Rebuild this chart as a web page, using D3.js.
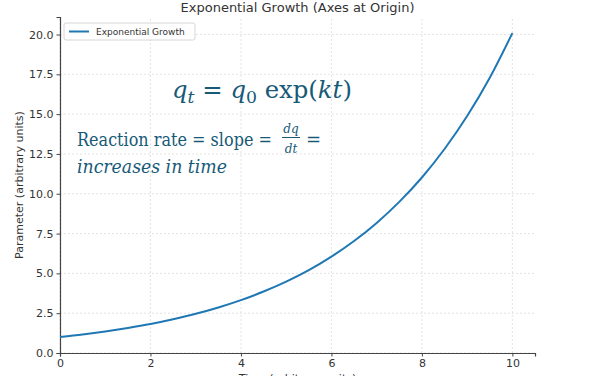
<!DOCTYPE html>
<html>
<head>
<meta charset="utf-8">
<script src="https://cdn.jsdelivr.net/npm/d3@7"></script>
<style>
  body { margin: 0; background: #fff; }
  svg { display: block; }
  .tick text { font-family: "DejaVu Sans", sans-serif; font-size: 11px; fill: #333; }
  .math { font-family: "DejaVu Serif", serif; fill: #175a78; }
</style>
</head>
<body>
<div id="chart"></div>
<script>
// readings (time, parameter)
const times  = [0, 0.5, 1, 1.5, 2, 2.5, 3, 3.5, 4, 4.5, 5, 5.5, 6, 6.5, 7, 7.5, 8, 8.5, 9, 9.5, 10];
const values = [1.00, 1.16, 1.35, 1.57, 1.82, 2.12, 2.46, 2.86, 3.32, 3.86, 4.48,
                5.20, 6.05, 7.03, 8.17, 9.49, 11.02, 12.81, 14.88, 17.29, 20.09];
const xTicks = [0, 2, 4, 6, 8, 10];
const yTicks = [0, 2.5, 5, 7.5, 10, 12.5, 15, 17.5, 20];
const seriesName = 'Exponential Growth';

const width = 604, height = 376;
const margin = { left: 60, right: 69, top: 17, bottom: 23 };

const svg = d3.select('#chart').append('svg')
  .attr('width', width).attr('height', height);

const x = d3.scaleLinear().domain([0, 10.5]).range([margin.left, width - margin.right]);
const y = d3.scaleLinear().domain([0, 21.1]).range([height - margin.bottom, margin.top]);

// grid
const grid = svg.append('g').attr('stroke', '#dcdcdc').attr('stroke-width', 0.8).attr('stroke-dasharray', '2,2');
grid.selectAll('.gx').data(xTicks).join('line')
  .attr('x1', d => x(d)).attr('x2', d => x(d))
  .attr('y1', y.range()[0]).attr('y2', y.range()[1]);
grid.selectAll('.gy').data(yTicks).join('line')
  .attr('x1', x.range()[0]).attr('x2', x.range()[1])
  .attr('y1', d => y(d)).attr('y2', d => y(d));

// axes
const xAxis = svg.append('g')
  .attr('transform', `translate(0,${y(0)})`)
  .call(d3.axisBottom(x).tickValues(xTicks).tickFormat(d3.format('d')).tickSize(3.5).tickPadding(3));
const yAxis = svg.append('g')
  .attr('transform', `translate(${x(0)},0)`)
  .call(d3.axisLeft(y).tickValues(yTicks).tickFormat(d3.format('.1f')).tickSize(3.5).tickPadding(3));
[xAxis, yAxis].forEach(a => {
  a.select('.domain').attr('stroke', '#444').attr('stroke-width', 1.2);
  a.selectAll('.tick line').attr('stroke', '#444');
});

// curve
const line = d3.line().x((d, i) => x(times[i])).y(d => y(d)).curve(d3.curveMonotoneX);
svg.append('path').datum(values)
  .attr('fill', 'none').attr('stroke', '#1f77b4').attr('stroke-width', 2)
  .attr('d', line);

// title and labels
svg.append('text').attr('x', (x.range()[0] + x.range()[1]) / 2).attr('y', 12)
  .attr('text-anchor', 'middle').attr('font-family', 'DejaVu Sans').attr('font-size', 13).attr('fill', '#333')
  .text('Exponential Growth (Axes at Origin)');
svg.append('text').attr('x', (x.range()[0] + x.range()[1]) / 2).attr('y', 382)
  .attr('text-anchor', 'middle').attr('font-family', 'DejaVu Sans').attr('font-size', 11).attr('fill', '#333')
  .text('Time (arbitrary units)');
svg.append('text').attr('transform', `translate(23,${(y.range()[0] + y.range()[1]) / 2}) rotate(-90)`)
  .attr('text-anchor', 'middle').attr('font-family', 'DejaVu Sans').attr('font-size', 11).attr('fill', '#333')
  .text('Parameter (arbitrary units)');

// legend
const lg = svg.append('g').attr('transform', 'translate(64,23)');
lg.append('rect').attr('width', 131).attr('height', 17).attr('rx', 2)
  .attr('fill', '#fff').attr('fill-opacity', 0.8).attr('stroke', '#ccc').attr('stroke-width', 0.8);
lg.append('line').attr('x1', 5).attr('x2', 25).attr('y1', 8.5).attr('y2', 8.5)
  .attr('stroke', '#1f77b4').attr('stroke-width', 2);
lg.append('text').attr('x', 32).attr('y', 12).attr('font-family', 'DejaVu Sans').attr('font-size', 9).attr('fill', '#333')
  .text(seriesName);

// text placed at (px,py) and squeezed horizontally to width w
function fitted(px, py, w, size) {
  const g = svg.append('g');
  const t = g.append('text').attr('class', 'math').attr('font-size', size);
  return {
    t,
    done() {
      const len = t.node().getComputedTextLength() || w;
      g.attr('transform', `translate(${px},${py}) scale(${w / len},1)`);
    }
  };
}

// equation annotations
const eq = fitted(172, 98, 180, 24);
eq.t.append('tspan').attr('font-style', 'italic').text('q');
eq.t.append('tspan').attr('font-style', 'italic').attr('font-size', 17).attr('dy', 5).text('t');
eq.t.append('tspan').attr('dy', -5).text(' = ');
eq.t.append('tspan').attr('font-style', 'italic').text('q');
eq.t.append('tspan').attr('font-size', 17).attr('dy', 5).text('0');
eq.t.append('tspan').attr('dy', -5).text(' exp(');
eq.t.append('tspan').attr('font-style', 'italic').text('kt');
eq.t.append('tspan').text(')');
eq.done();

const rate = fitted(77, 146, 195, 18);
rate.t.text('Reaction rate = slope =');
rate.done();

const fr = svg.append('g').attr('class', 'math');
fr.append('text').attr('x', 291).attr('y', 133).attr('text-anchor', 'middle').attr('font-size', 12).attr('font-style', 'italic').text('dq');
fr.append('line').attr('x1', 282).attr('x2', 300).attr('y1', 137.5).attr('y2', 137.5).attr('stroke', '#175a78').attr('stroke-width', 1);
fr.append('text').attr('x', 291).attr('y', 153).attr('text-anchor', 'middle').attr('font-size', 12).attr('font-style', 'italic').text('dt');
svg.append('text').attr('class', 'math').attr('x', 306).attr('y', 146).attr('font-size', 18).text('=');

const inc = fitted(77, 173, 150, 18);
inc.t.attr('font-style', 'italic').text('increases in time');
inc.done();
</script>
</body>
</html>
